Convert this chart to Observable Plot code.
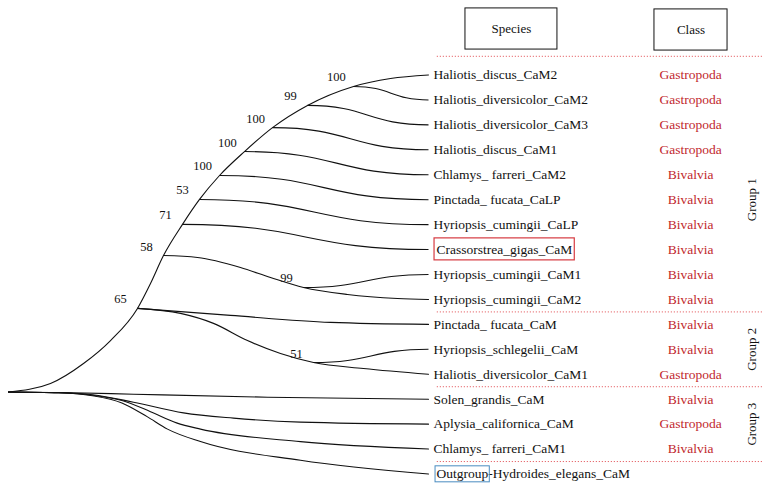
<!DOCTYPE html>
<html><head><meta charset="utf-8">
<script src="https://cdn.jsdelivr.net/npm/d3@7"></script>
<script src="https://cdn.jsdelivr.net/npm/@observablehq/plot@0.6"></script>
<style>
body{margin:0;background:#fff}
#chart svg{display:block}
#chart svg, #chart svg text{font-family:"Liberation Serif","DejaVu Serif","Times New Roman",Times,serif !important}
</style>
</head><body><div id="chart"></div>
<script>
// ---------- DATA ----------
const species = [
  "Haliotis_discus_CaM2","Haliotis_diversicolor_CaM2","Haliotis_diversicolor_CaM3","Haliotis_discus_CaM1",
  "Chlamys_ farreri_CaM2","Pinctada_ fucata_CaLP","Hyriopsis_cumingii_CaLP","Crassorstrea_gigas_CaM",
  "Hyriopsis_cumingii_CaM1","Hyriopsis_cumingii_CaM2","Pinctada_ fucata_CaM","Hyriopsis_schlegelii_CaM",
  "Haliotis_diversicolor_CaM1","Solen_grandis_CaM","Aplysia_californica_CaM","Chlamys_ farreri_CaM1",
  "Outgroup-Hydroides_elegans_CaM"
];
const classes = [
  "Gastropoda","Gastropoda","Gastropoda","Gastropoda","Bivalvia","Bivalvia","Bivalvia","Bivalvia",
  "Bivalvia","Bivalvia","Bivalvia","Bivalvia","Gastropoda","Bivalvia","Gastropoda","Bivalvia",""
];
const groups = ["Group 1","Group 2","Group 3"];
const groupCenters = [5, 11, 14];          // row index of each group label
const separators = [-0.75, 9.5, 12.5, 15.5]; // row positions of dotted dividers
const headers = ["Species","Class"];

// tree: x = distance from root (0..100), y = row index
const root = {x: 0, y: 12.71};
const nodes = {
  n100d:{x:82.14,y:0.46,s:100}, n99a:{x:71.19,y:1.22,s:99}, n100c:{x:62.86,y:2.11,s:100},
  n100b:{x:56.19,y:3.07,s:100}, n100a:{x:50.24,y:4.03,s:100}, n53:{x:45.48,y:4.99,s:53},
  n71:{x:41.43,y:5.99,s:71},   n58:{x:36.90,y:7.24,s:58},   n65:{x:30.71,y:9.36,s:65},
  n99b:{x:70.24,y:8.52,s:99},  n51:{x:72.62,y:11.53,s:51}
};
// side branches: node -> leaf row
const sideBranches = [
  ["n100d",1],["n99a",2],["n100c",3],["n100b",4],["n100a",5],["n53",6],["n71",7],["n99b",8],["n51",11]
];
// continuous paths (waypoints)
const paths = {
  backbone: ["root",[10.0,12.37],[17.86,11.57],[24.29,10.65],"n65",[33.81,8.36],"n58","n71","n53","n100a","n100b","n100c","n99a","n100d",[90.95,0.14],[100,0]],
  p58: ["n58",[45.0,7.32],[55.24,7.72],[62.38,8.12],"n99b",[80.71,8.80],[92.62,8.96],[100,9]],
  p65a: ["n65",[52.86,9.64],[76.67,9.92],[100,10]],
  p65b: ["n65",[40.95,9.56],[48.81,9.96],[56.90,10.65],[64.76,11.17],"n51",[84.52,11.77],[100,12]],
  solen: ["root",[15,12.74],[29.8,12.8],[61.7,12.92],[100,13]],
  aplysia: ["root",[12,12.74],[20,12.82],[29.76,13.12],[41.67,13.55],[53.57,13.76],[69.52,13.92],[100,14]],
  chlamys1: ["root",[12,12.74],[20,12.84],[27,13.05],[33.81,13.5],[40,13.95],[45.71,14.2],[69.52,14.7],[100,15]],
  outgroup: ["root",[12,12.74],[20,12.86],[27,13.15],[33,13.7],[37.86,14.2],[45.71,14.7],[69.52,15.45],[100,16]]
};

// ---------- BUILD ----------
const pt = p => p === "root" ? [root.x, root.y] : (typeof p === "string" ? [nodes[p].x, nodes[p].y] : p);
const pathRows = Object.entries(paths).flatMap(([id, pts]) => pts.map(p => { const [x,y] = pt(p); return {id, x, y}; }));
const linkRows = sideBranches.map(([n, leaf]) => ({x1: nodes[n].x, y1: nodes[n].y, x2: 100, y2: leaf}));
const nodeRows = Object.values(nodes);
const leafRows = species.map((s, i) => ({s, c: classes[i], i}));

// column positions in x-data units
const colSpecies = 101.2, colClass = 162.4, colGroup = 177.1;
const sepX1 = 102.1, sepX2 = 179.5;
const boxes = [
  {t: headers[0], x1:108.8, x2:130.7, y1:-2.67, y2:-1.02},
  {t: headers[1], x1:153.8, x2:171.2, y1:-2.63, y2:-0.98}
];
const FONT = "Liberation Serif, DejaVu Serif, serif";

const plot = Plot.plot({
  width: 772, height: 491,
  marginTop: 0, marginRight: 0, marginBottom: 0, marginLeft: 0,
  x: {domain: [0, 100], range: [8, 428]},
  y: {domain: [0, 16], range: [74.5, 473.5]},
  axis: null,
  style: {background: "#fff"},
  marks: [
    Plot.line(pathRows, {x: "x", y: "y", z: "id", curve: "monotone-x", stroke: "#111", strokeWidth: 1.1}),
    Plot.link(linkRows, {x1: "x1", y1: "y1", x2: "x2", y2: "y2", curve: "bump-x", stroke: "#111", strokeWidth: 1.1}),
    Plot.text(nodeRows, {x: "x", y: "y", text: d => String(d.s), dx: -17, dy: -9, fontSize: 12.5, fontFamily: FONT, fill: "#111"}),
    Plot.ruleY(separators, {x1: sepX1, x2: sepX2, stroke: "#e0474c", strokeWidth: 1, strokeDasharray: "1,2"}),
    Plot.rect(boxes, {x1: "x1", x2: "x2", y1: "y1", y2: "y2", fill: "#fff", stroke: "#111", strokeWidth: 1}),
    Plot.text(boxes, {x: d => (d.x1 + d.x2) / 2, y: d => (d.y1 + d.y2) / 2, text: "t", fontSize: 13, fontFamily: FONT, fill: "#111"}),
    Plot.text(leafRows, {x: colSpecies, y: "i", text: "s", textAnchor: "start", fontSize: 13.5, fontFamily: FONT, fill: "#111", className: "species"}),
    Plot.text(leafRows, {x: colClass, y: "i", text: "c", fontSize: 13.5, fontFamily: FONT, fill: "#c1272d"}),
    Plot.text(groups, {x: colGroup, y: (d, i) => groupCenters[i], text: d => d, rotate: -90, fontSize: 13, fontFamily: FONT, fill: "#111"})
  ]
});
document.getElementById("chart").appendChild(plot);

// outline boxes around highlighted labels
const texts = d3.select(plot).selectAll("g.species text").nodes();
const svgSel = d3.select(plot);
texts.forEach((t, i) => {
  const s = species[i];
  if (s === "Crassorstrea_gigas_CaM" || s.startsWith("Outgroup")) {
    t.setAttribute("transform", (t.getAttribute("transform") || "") + " translate(3,0)");
    const b = t.getBBox();
    const m = t.getCTM();
    if (s.startsWith("Outgroup")) {
      const w = t.getSubStringLength(0, 8);
      svgSel.append("rect").attr("x", m.e + b.x - 1.5).attr("y", m.f + b.y - 0.5).attr("width", w + 2.5).attr("height", b.height + 1)
        .attr("fill", "none").attr("stroke", "#4a8cc0").attr("stroke-width", 1);
    } else {
      svgSel.append("rect").attr("x", m.e + b.x - 2.5).attr("y", m.f + b.y - 4).attr("width", b.width + 4.5).attr("height", b.height + 7)
        .attr("fill", "none").attr("stroke", "#d63a40").attr("stroke-width", 1.2);
    }
  }
});
</script>
</body></html>
